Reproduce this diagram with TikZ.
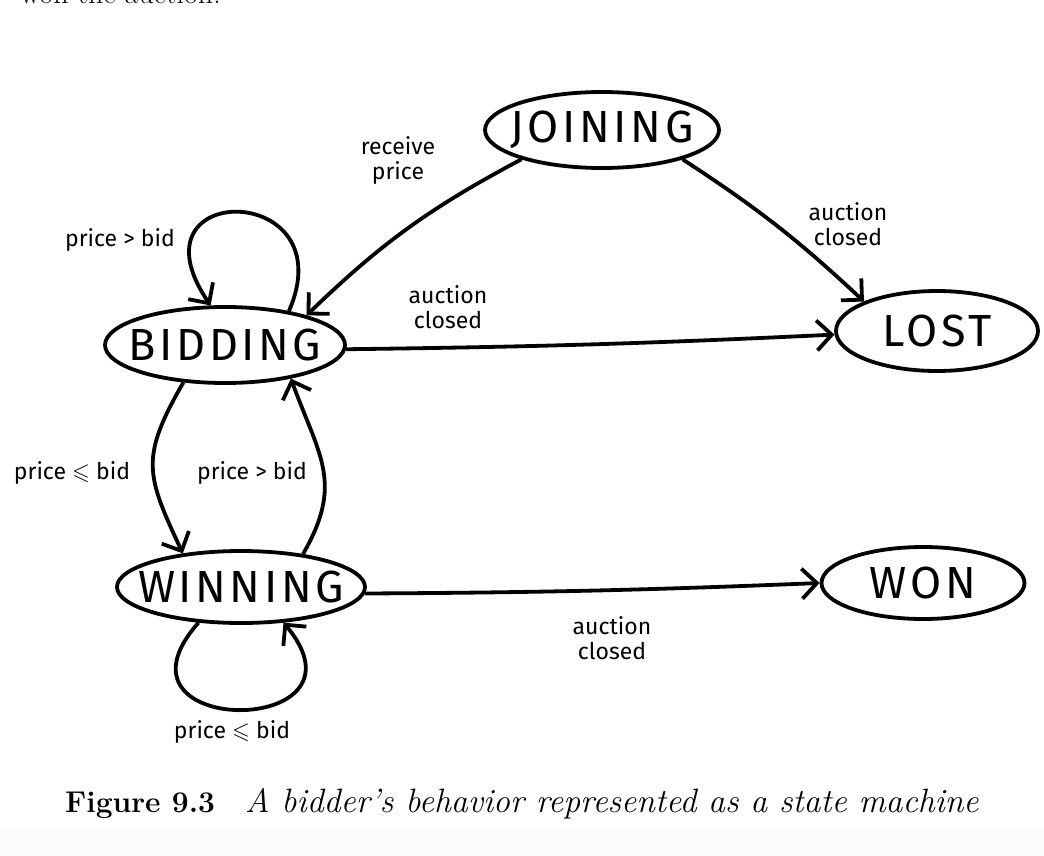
\documentclass[tikz,border=0pt]{standalone}
\usepackage{amssymb}
\usepackage{fontspec}
\newfontfamily\hand{Fira Sans}
\newfontfamily\handwide{Fira Sans}[LetterSpace=8]
\usetikzlibrary{shapes.geometric,arrows.meta}
\definecolor{band}{RGB}{252,252,252}
\newcommand\stname[1]{\makebox[0pt]{#1}}
\tikzset{
  state/.style={draw, ellipse, line width=3.8pt, inner sep=0pt, font=\handwide\fontsize{45}{45}\selectfont},
  lab/.style={font=\hand\fontsize{23}{25}\selectfont, align=center, inner sep=0pt},
  tr/.style={line width=3.8pt, -{Straight Barb[length=15pt,width=30pt,line width=3.8pt]}},
}
\begin{document}
\begin{tikzpicture}[x=1pt,y=-1pt]
\useasboundingbox (0,0) rectangle (1044,856);
\fill[band] (0,830) rectangle (1044,856);
% clipped top text
\node[anchor=base west, font=\fontsize{30}{36}\selectfont, inner sep=0pt] (top) at (20,4) {won the auction.};
% states
\node[state, minimum width=234pt, minimum height=76pt] (joi) at (602,130) {\stname{JOINING}};
\node[state, minimum width=240pt, minimum height=76pt] (bid) at (225,345) {\stname{BIDDING}};
\node[state, minimum width=202pt, minimum height=80pt] (los) at (937,331) {\stname{LOST}};
\node[state, minimum width=248pt, minimum height=72pt] (win) at (241,587) {\stname{WINNING}};
\node[state, minimum width=203pt, minimum height=72pt] (won) at (923,583) {\stname{WON}};
% transitions
\draw[tr] (joi.200) to[bend right=8] (bid.20);
\draw[tr] (joi.340) to[bend left=5] (los.158);
\draw[tr] (bid.-2) to[bend right=1] (los.182);
\draw[tr] (bid.28) .. controls +(57,-130) and +(-86,-126) .. (bid.110);
\draw[tr] (bid.222) to[out=240, in=115, looseness=1.3] (win.150);
\draw[tr] (win.28) to[out=60, in=290, looseness=1.2] (bid.333);
\draw[tr] (win.220) .. controls +(-103,116) and +(97,116) .. (win.320);
\draw[tr] (win.-3) to[bend right=1] (won.180);
% labels
\node[lab] (l1) at (398,160) {receive\\price};
\node[lab] (l2) at (848,224) {auction\\closed};
\node[lab] (l3) at (448,307) {auction\\closed};
\node[lab] (l4) at (120,240) {price > bid};
\node[lab] (l5) at (72,473) {price $\leqslant$ bid};
\node[lab] (l6) at (252,473) {price > bid};
\node[lab] (l7) at (232,732) {price $\leqslant$ bid};
\node[lab] (l8) at (612,638) {auction\\closed};
% caption
\node[anchor=base west, inner sep=0pt] (cap) at (65,812)
  {\fontsize{30}{34}\selectfont\textbf{Figure 9.3}\hspace{30pt}\fontsize{33.8}{36}\selectfont\textit{A bidder’s behavior represented as a state machine}};
\end{tikzpicture}
\end{document}
